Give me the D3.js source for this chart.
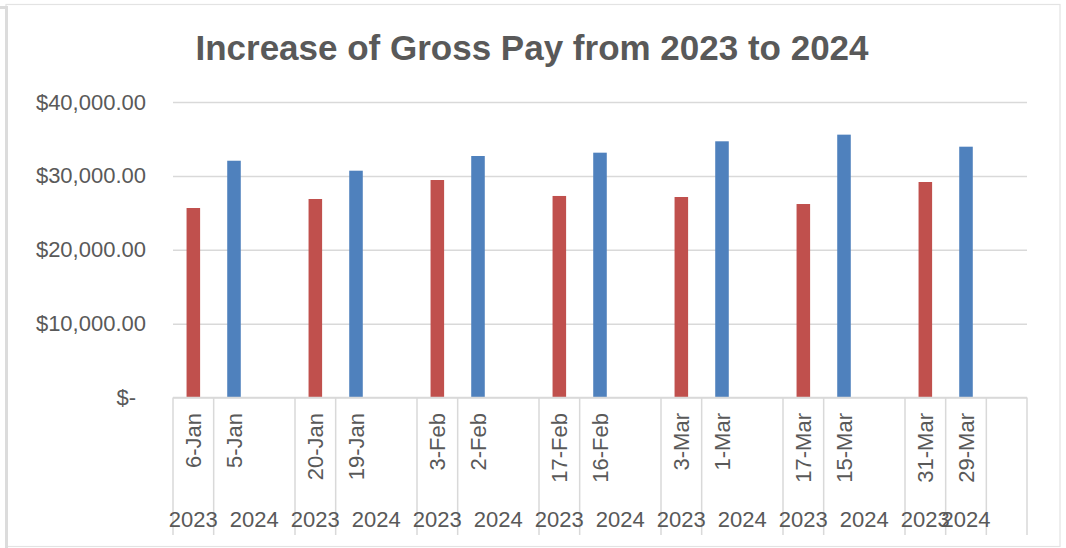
<!DOCTYPE html>
<html>
<head>
<meta charset="utf-8">
<script src="https://cdn.jsdelivr.net/npm/d3@7"></script>
<style>
  body { margin: 0; background: #fff; }
  svg { display: block; font-family: 'Liberation Sans', Arial, sans-serif; }
  .axisLabel text { fill: #595959; font-size: 22px; }
  .axisLabel .domain, .axisLabel line { display: none; }
  .grid line { stroke: #d9d9d9; stroke-width: 1.5; }
  .grid .domain { display: none; }
</style>
</head>
<body>
<svg width="1066" height="548"></svg>
<script>
const title = 'Increase of Gross Pay from 2023 to 2024'
const years = ['2023', '2024']
const dates2023 = ['6-Jan', '20-Jan', '3-Feb', '17-Feb', '3-Mar', '17-Mar', '31-Mar']
const dates2024 = ['5-Jan', '19-Jan', '2-Feb', '16-Feb', '1-Mar', '15-Mar', '29-Mar']
const pay2023 = [25650, 26870, 29440, 27280, 27140, 26190, 29170]
const pay2024 = [32050, 30700, 32690, 33140, 34680, 35580, 33950]
const yTicks = [0, 10000, 20000, 30000, 40000]
const colors = { '2023': '#C0504D', '2024': '#4F81BD' }

const dim = { left: 173, right: 1027, top: 102, bottom: 397.5 }

// each pay period gets three slots: 2023, 2024 and an empty spacer row
function buildSlots () {
  const slots = []
  dates2023.forEach((d, i) => {
    slots.push({ year: years[0], date: d, value: pay2023[i], group: 2 * i })
    slots.push({ year: years[1], date: dates2024[i], value: pay2024[i], group: 2 * i + 1 })
    const last = i === dates2023.length - 1
    slots.push({ year: last ? '' : years[1], date: '', value: null, group: last ? 2 * i + 2 : 2 * i + 1 })
  })
  return slots.map((s, i) => Object.assign(s, { idx: i }))
}

const slots = buildSlots()
const svg = d3.select('svg')

// outer frame
svg.append('rect').attr('x', 6).attr('y', 4.5).attr('width', 1054).attr('height', 542)
  .attr('fill', 'none').attr('stroke', '#e3e3e3').attr('stroke-width', 1.2)
svg.append('rect').attr('x', 5).attr('y', 6).attr('width', 3).attr('height', 542).attr('fill', '#dcdcdc')
svg.append('rect').attr('x', 0).attr('y', 6).attr('width', 8).attr('height', 3).attr('fill', '#dcdcdc')

const xScale = d3.scaleBand()
  .domain(slots.map((s) => s.idx))
  .range([dim.left, dim.right])
  .padding(0)

const yScale = d3.scaleLinear()
  .domain([0, 40000])
  .range([dim.bottom, dim.top])

// gridlines
svg.append('g')
  .attr('class', 'grid')
  .attr('transform', 'translate(' + dim.left + ',0)')
  .call(d3.axisLeft(yScale).tickValues(yTicks).tickSize(-(dim.right - dim.left)).tickFormat(''))

// y labels
const yAx = svg.append('g')
  .attr('class', 'axisLabel')
  .attr('transform', 'translate(146,0)')
  .call(d3.axisLeft(yScale).tickValues(yTicks).tickSize(0).tickPadding(0)
    .tickFormat((t) => t === 0 ? '$-' : d3.format('$,.2f')(t)))
yAx.selectAll('text').filter((t) => t === 0).attr('dx', -10)

// bars
const barW = xScale.bandwidth() / 3
svg.append('g')
  .selectAll('rect')
  .data(slots.filter((s) => s.value !== null))
  .join('rect')
  .attr('x', (d) => xScale(d.idx) + (xScale.bandwidth() - barW) / 2)
  .attr('y', (d) => yScale(d.value))
  .attr('width', barW)
  .attr('height', (d) => yScale(0) - yScale(d.value))
  .attr('fill', (d) => colors[d.year])

// category axis baseline
svg.append('line')
  .attr('x1', dim.left).attr('x2', dim.right)
  .attr('y1', yScale(0)).attr('y2', yScale(0))
  .attr('stroke', '#d9d9d9').attr('stroke-width', 1.5)

// outer groups (years) from consecutive slots
const groups = d3.groups(slots, (s) => s.group).map(([g, arr]) => ({
  year: arr[0].year,
  x0: xScale(arr[0].idx),
  x1: xScale(arr[arr.length - 1].idx) + xScale.bandwidth()
}))

const sep = [dim.left].concat(groups.map((g) => g.x1))
svg.append('g')
  .selectAll('line')
  .data(sep)
  .join('line')
  .attr('x1', (d) => d).attr('x2', (d) => d)
  .attr('y1', yScale(0)).attr('y2', 535)
  .attr('stroke', '#d9d9d9').attr('stroke-width', 1.5)

// inner labels (dates), rotated
svg.append('g')
  .attr('class', 'axisLabel')
  .selectAll('text')
  .data(slots.filter((s) => s.date))
  .join('text')
  .attr('transform', (d) => 'translate(' + (xScale(d.idx) + xScale.bandwidth() / 2) + ',413) rotate(-90)')
  .attr('text-anchor', 'end')
  .attr('dy', '0.36em')
  .text((d) => d.date)

// outer labels (years)
svg.append('g')
  .attr('class', 'axisLabel')
  .selectAll('text')
  .data(groups.filter((g) => g.year))
  .join('text')
  .attr('x', (d) => (d.x0 + d.x1) / 2)
  .attr('y', 527)
  .attr('text-anchor', 'middle')
  .text((d) => d.year)

// title
svg.append('text')
  .attr('x', 532)
  .attr('y', 60)
  .attr('text-anchor', 'middle')
  .attr('fill', '#595959')
  .attr('font-size', 35)
  .attr('font-weight', 'bold')
  .text(title)
</script>
</body>
</html>
